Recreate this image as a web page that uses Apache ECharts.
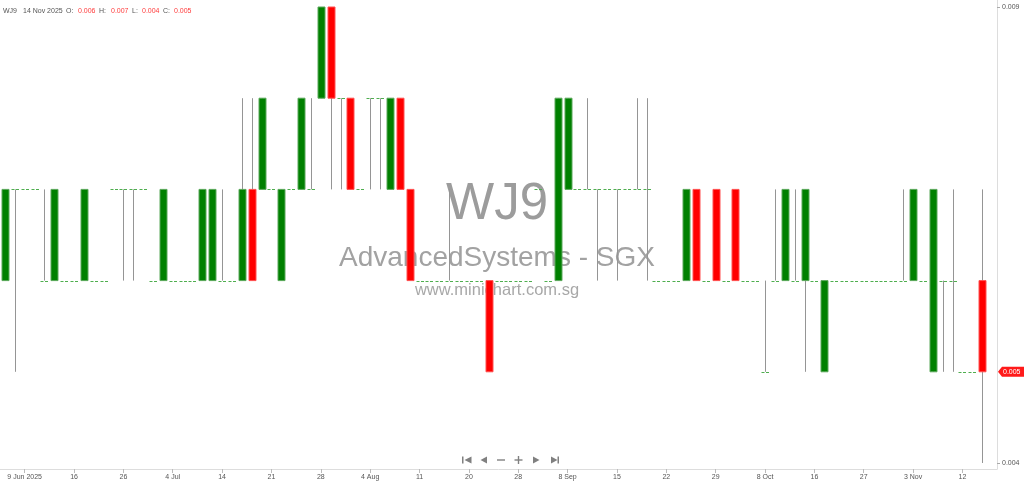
<!DOCTYPE html>
<html>
<head>
<meta charset="utf-8">
<script src="https://cdn.jsdelivr.net/npm/echarts@6/dist/echarts.min.js"></script>
<style>
html,body{margin:0;padding:0;background:#fff;}
#c{width:1024px;height:484px;}
</style>
</head>
<body>
<div id="c"></div>
<script>
// ---- chart data ----
const symbol = 'WJ9';
const exchangeName = 'AdvancedSystems - SGX';
const website = 'www.minichart.com.sg';
const lastDate = '14 Nov 2025';

const opens = [
  0.006,0.007,0.007,0.007,0.006,0.006,0.006,0.006,0.006,0.006,
  0.006,0.007,0.007,0.007,0.007,0.006,0.006,0.006,0.006,0.006,
  0.006,0.006,0.006,0.006,0.006,0.007,0.007,0.007,0.006,0.007,
  0.007,0.007,0.008,0.009,0.008,0.008,0.007,0.008,0.008,0.007,
  0.008,0.007,0.006,0.006,0.006,0.006,0.006,0.006,0.006,0.006,
  0.006,0.006,0.006,0.006,0.007,0.006,0.006,0.007,0.007,0.007,
  0.007,0.007,0.007,0.007,0.007,0.007,0.006,0.006,0.006,0.006,
  0.007,0.006,0.007,0.006,0.007,0.006,0.006,0.005,0.006,0.006,
  0.006,0.006,0.006,0.005,0.006,0.006,0.006,0.006,0.006,0.006,
  0.006,0.006,0.006,0.006,0.005,0.006,0.006,0.005,0.005,0.006
];
const closes = [
  0.007,0.007,0.007,0.007,0.006,0.007,0.006,0.006,0.007,0.006,
  0.006,0.007,0.007,0.007,0.007,0.006,0.007,0.006,0.006,0.006,
  0.007,0.007,0.006,0.006,0.007,0.006,0.008,0.007,0.007,0.007,
  0.008,0.007,0.009,0.008,0.008,0.007,0.007,0.008,0.008,0.008,
  0.007,0.006,0.006,0.006,0.006,0.006,0.006,0.006,0.006,0.005,
  0.006,0.006,0.006,0.006,0.007,0.006,0.008,0.008,0.007,0.007,
  0.007,0.007,0.007,0.007,0.007,0.007,0.006,0.006,0.006,0.007,
  0.006,0.006,0.006,0.006,0.006,0.006,0.006,0.005,0.006,0.007,
  0.006,0.007,0.006,0.006,0.006,0.006,0.006,0.006,0.006,0.006,
  0.006,0.006,0.007,0.006,0.007,0.006,0.006,0.005,0.005,0.005
];
const lows = [
  0.006,0.005,0.007,0.007,0.006,0.006,0.006,0.006,0.006,0.006,
  0.006,0.007,0.006,0.006,0.007,0.006,0.006,0.006,0.006,0.006,
  0.006,0.006,0.006,0.006,0.006,0.006,0.007,0.007,0.006,0.007,
  0.007,0.007,0.008,0.007,0.007,0.007,0.007,0.007,0.007,0.007,
  0.007,0.006,0.006,0.006,0.006,0.006,0.006,0.006,0.006,0.005,
  0.006,0.006,0.006,0.006,0.007,0.006,0.006,0.007,0.007,0.007,
  0.006,0.007,0.006,0.007,0.007,0.006,0.006,0.006,0.006,0.006,
  0.006,0.006,0.006,0.006,0.006,0.006,0.006,0.005,0.006,0.006,
  0.006,0.005,0.006,0.005,0.006,0.006,0.006,0.006,0.006,0.006,
  0.006,0.006,0.006,0.006,0.005,0.005,0.005,0.005,0.005,0.004
];
const highs = [
  0.007,0.007,0.007,0.007,0.007,0.007,0.006,0.006,0.007,0.006,
  0.006,0.007,0.007,0.007,0.007,0.006,0.007,0.006,0.006,0.006,
  0.007,0.007,0.007,0.006,0.008,0.008,0.008,0.007,0.007,0.007,
  0.008,0.008,0.009,0.009,0.008,0.008,0.007,0.008,0.008,0.008,
  0.008,0.007,0.006,0.006,0.006,0.007,0.006,0.006,0.006,0.006,
  0.006,0.006,0.006,0.006,0.007,0.006,0.008,0.008,0.007,0.008,
  0.007,0.007,0.007,0.007,0.008,0.008,0.006,0.006,0.006,0.007,
  0.007,0.006,0.007,0.006,0.007,0.006,0.006,0.006,0.007,0.007,
  0.007,0.007,0.006,0.006,0.006,0.006,0.006,0.006,0.006,0.006,
  0.006,0.007,0.007,0.006,0.007,0.006,0.007,0.005,0.005,0.007
];

// x-axis tick labels: one label every 5 bars, starting at bar index 2
const tickLabels = ['9 Jun 2025','16','26','4 Jul','14','21','28','4 Aug','11','20',
                    '28','8 Sep','15','22','29','8 Oct','16','27','3 Nov','12'];
const firstTickIndex = 2;
const tickEvery = 5;
// right-axis labels
const yLabelValues = [0.004, 0.009];

// ---- build ----
const n = opens.length;
const categories = [];
for (let i = 0; i < n; i++) categories.push(String(i));
categories.push(''); // empty slot on the right edge
const rows = [];
for (let i = 0; i < n; i++) rows.push([i, opens[i], closes[i], lows[i], highs[i]]);

const isTick = (idx) => idx >= firstTickIndex && (idx - firstTickIndex) % tickEvery === 0 && idx < n;

const GREEN = '#008000', RED = '#ff0000', WICK = '#959595', DOJI = '#4fae4f';
const FONT = 'Liberation Sans, Arial, sans-serif';

const chart = echarts.init(document.getElementById('c'), null, {renderer: 'canvas'});

const option = {
  backgroundColor: '#ffffff',
  animation: false,
  grid: {left: 0, right: 27, top: 0, bottom: 15, outerBoundsMode: 'none', containLabel: false},
  xAxis: {
    type: 'category',
    data: categories,
    boundaryGap: true,
    axisLine: {show: true, lineStyle: {color: '#dddddd', width: 1}},
    axisTick: {show: true, alignWithLabel: true, interval: (idx) => isTick(idx), length: 4, lineStyle: {color: '#bbbbbb'}},
    axisLabel: {
      show: true,
      interval: (idx) => isTick(idx),
      formatter: (v, idx) => isTick(idx) ? tickLabels[(idx - firstTickIndex) / tickEvery] : '',
      fontSize: 7, color: '#555555', fontFamily: FONT, margin: 5
    },
    splitLine: {show: false}
  },
  yAxis: {
    type: 'value',
    position: 'right',
    min: 0.0039342,
    max: 0.0090768,
    scale: true,
    axisLine: {show: true, lineStyle: {color: '#dddddd', width: 1}},
    axisTick: {show: true, customValues: yLabelValues, length: 3, lineStyle: {color: '#aaaaaa'}},
    axisLabel: {
      show: true, customValues: yLabelValues,
      formatter: (v) => Number(v).toFixed(3),
      fontSize: 7, color: '#555555', fontFamily: FONT, margin: 5
    },
    splitLine: {show: false}
  },
  series: [{
    type: 'custom',
    z: 5,
    clip: false,
    data: rows,
    encode: {x: 0, y: [1, 2, 3, 4]},
    renderItem: function (params, api) {
      const i = api.value(0);
      const o = api.value(1), c = api.value(2), l = api.value(3), h = api.value(4);
      const pO = api.coord([i, o]);
      const xc = Math.round(pO[0]) + 0.5;
      const yo = pO[1];
      const yc = api.coord([i, c])[1];
      const yl = api.coord([i, l])[1];
      const yh = api.coord([i, h])[1];
      const band = api.size([1, 0])[0];
      const bw = Math.round(band * 0.8);
      const children = [];
      if (Math.abs(yl - yh) > 0.5) {
        children.push({type: 'line', shape: {x1: xc, y1: yh, x2: xc, y2: yl},
          style: {stroke: WICK, lineWidth: 1}});
      }
      if (Math.abs(yo - yc) > 0.5) {
        const up = c > o;
        children.push({type: 'rect',
          shape: {x: xc - bw / 2 + 0.5, y: Math.min(yo, yc), width: bw - 1, height: Math.abs(yo - yc)},
          style: {fill: up ? GREEN : RED, stroke: up ? '#5aa85a' : '#ff5050', lineWidth: 1}});
      } else {
        const yy = Math.round(yo) + 0.5;
        children.push({type: 'line', shape: {x1: xc - bw / 2, y1: yy, x2: xc + bw / 2, y2: yy},
          style: {stroke: DOJI, lineWidth: 1, lineDash: [3, 1.5]}});
      }
      return {type: 'group', children: children};
    }
  }]
};

chart.setOption(option);

// ---- overlay texts (watermark, header, navigation, last-price tag) ----
const lastO = opens[n - 1], lastH = highs[n - 1], lastL = lows[n - 1], lastC = closes[n - 1];
const fmt = (v) => v.toFixed(3);
const graphics = [];

// watermark (behind bars)
graphics.push({type: 'text', z: 0, silent: true, x: 497, y: 205,
  style: {text: symbol, fontSize: 51, fontFamily: FONT, fill: '#9c9c9c', align: 'center', verticalAlign: 'middle'}});
graphics.push({type: 'text', z: 0, silent: true, x: 497, y: 258,
  style: {text: exchangeName, fontSize: 28, fontFamily: FONT, fill: '#a2a2a2', align: 'center', verticalAlign: 'middle'}});
graphics.push({type: 'text', z: 0, silent: true, x: 497, y: 290,
  style: {text: website, fontSize: 16.5, fontFamily: FONT, fill: '#a8a8a8', align: 'center', verticalAlign: 'middle'}});

// header
const header = [
  [symbol, 3, '#555555'], [lastDate, 23, '#555555'],
  ['O:', 66, '#555555'], [fmt(lastO), 78, '#ff3b3b'],
  ['H:', 99, '#555555'], [fmt(lastH), 111, '#ff3b3b'],
  ['L:', 132, '#555555'], [fmt(lastL), 142, '#ff3b3b'],
  ['C:', 163, '#555555'], [fmt(lastC), 174, '#ff3b3b']
];
header.forEach(([t, x, col]) => graphics.push({type: 'text', z: 10, x: x, y: 11,
  style: {text: t, fontSize: 7, fontFamily: FONT, fill: col, align: 'left', verticalAlign: 'middle'}}));

// navigation controls
const NAV = '#808080';
graphics.push({type: 'rect', z: 10, shape: {x: 462, y: 456.5, width: 1.5, height: 7}, style: {fill: NAV}});
graphics.push({type: 'polygon', z: 10, shape: {points: [[471.5, 456.5], [471.5, 463.5], [464.5, 460]]}, style: {fill: NAV}});
graphics.push({type: 'polygon', z: 10, shape: {points: [[487, 456.5], [487, 463.5], [480.5, 460]]}, style: {fill: NAV}});
graphics.push({type: 'rect', z: 10, shape: {x: 497, y: 459.3, width: 8, height: 1.4}, style: {fill: NAV}});
graphics.push({type: 'rect', z: 10, shape: {x: 514.5, y: 459.3, width: 8, height: 1.4}, style: {fill: NAV}});
graphics.push({type: 'rect', z: 10, shape: {x: 517.8, y: 456, width: 1.4, height: 8}, style: {fill: NAV}});
graphics.push({type: 'polygon', z: 10, shape: {points: [[533, 456.5], [533, 463.5], [539.5, 460]]}, style: {fill: NAV}});
graphics.push({type: 'polygon', z: 10, shape: {points: [[551, 456.5], [551, 463.5], [557.5, 460]]}, style: {fill: NAV}});
graphics.push({type: 'rect', z: 10, shape: {x: 557.5, y: 456.5, width: 1.5, height: 7}, style: {fill: NAV}});

// last price tag on right axis
const yTag = chart.convertToPixel({yAxisIndex: 0}, lastC);
graphics.push({type: 'polygon', z: 10, shape: {points: [[998, yTag], [1002, yTag - 5], [1024, yTag - 5], [1024, yTag + 5], [1002, yTag + 5]]},
  style: {fill: '#ff1a1a'}});
graphics.push({type: 'text', z: 11, x: 1003, y: yTag,
  style: {text: fmt(lastC), fontSize: 7, fontFamily: FONT, fill: '#ffffff', align: 'left', verticalAlign: 'middle'}});

chart.setOption({graphic: graphics});
</script>
</body>
</html>
